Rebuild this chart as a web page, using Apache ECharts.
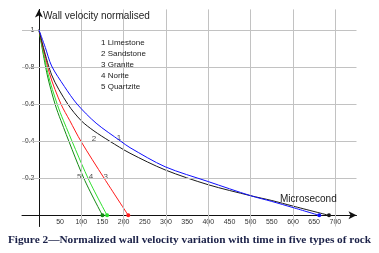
<!DOCTYPE html>
<html>
<head>
<meta charset="utf-8">
<script src="https://cdn.jsdelivr.net/npm/echarts@6/dist/echarts.min.js"></script>
<style>
  html, body { margin: 0; padding: 0; background: #fff; }
  #chart { width: 379px; height: 253px; }
</style>
</head>
<body>
<div id="chart"></div>
<script>
// time in microseconds, normalised wall velocity
const limestone = [[0, 1], [15, 0.905], [30, 0.805], [60, 0.695], [90, 0.6], [135, 0.497], [193, 0.4], [215, 0.365], [298, 0.262], [400, 0.182], [500, 0.106], [550, 0.075], [600, 0.042], [662, 0]];
const sandstone = [[0, 1], [30, 0.757], [68, 0.6], [100, 0.51], [130, 0.455], [167, 0.4], [215, 0.335], [298, 0.245], [400, 0.165], [500, 0.106], [550, 0.08], [600, 0.05], [685, 0]];
const granite = [[0, 1], [26, 0.757], [52, 0.6], [73, 0.51], [99, 0.4], [154, 0.2], [211, 0]];
const norite = [[0, 1], [22, 0.757], [43, 0.6], [58, 0.51], [116, 0.2], [161, 0]];
const quartzite = [[0, 1], [19.6, 0.757], [38, 0.6], [52, 0.51], [106, 0.2], [150, 0]];

const rockNames = ["1 Limestone", "2 Sandstone", "3 Granite", "4 Norite", "5 Quartzite"];
const curveNumbers = ["1", "2", "3", "4", "5"];
const curveLabelAt = [[189, 0.42], [130, 0.415], [158, 0.21], [123, 0.21], [95, 0.21]];
const xTickLabels = [50, 100, 150, 200, 250, 300, 350, 400, 450, 500, 550, 600, 650, 700];
const xGridLines = [100, 200, 300, 400, 500, 600, 700];
const yTickLabels = [0.2, 0.4, 0.6, 0.8, 1];

const allSeries = [limestone, sandstone, granite, norite, quartzite];
const colors = ["#1010ff", "#1a1a1a", "#ff1a1a", "#2ee02e", "#138a13"];
const gridColor = "#c2c2c2";

const chart = echarts.init(document.getElementById("chart"), null, { renderer: "canvas" });

const series = allSeries.map((pts, i) => ({
  name: rockNames[i],
  type: "line",
  smooth: 0.3,
  data: pts.map((p, j) => j === pts.length - 1
    ? { value: p, symbol: "circle", symbolSize: 4 }
    : { value: p, symbol: "none" }),
  lineStyle: { color: colors[i], width: 1 },
  itemStyle: { color: colors[i] },
  silent: true,
  z: 5 - i
}));

// grid lines, drawn through the axes' own scales
series.push({
  type: "line",
  data: [],
  silent: true,
  z: 0,
  markLine: {
    silent: true,
    symbol: "none",
    animation: false,
    label: { show: false },
    lineStyle: { color: gridColor, width: 1, type: "solid" },
    data: xGridLines.map(v => ({ xAxis: v })).concat(yTickLabels.map(v => ({ yAxis: v })))
  }
});

series.push({
  type: "scatter",
  symbolSize: 0,
  silent: true,
  data: curveLabelAt.map((p, i) => ({ value: p, name: curveNumbers[i] })),
  label: {
    show: true,
    position: "inside",
    formatter: "{b}",
    fontSize: 8,
    color: "#222",
    fontFamily: "Liberation Sans"
  }
});

const plainText = { fontWeight: "normal", color: "#222", fontFamily: "Liberation Sans" };

chart.setOption({
  animation: false,
  backgroundColor: "#fff",
  grid: { left: 22, right: 22.5, top: 9.4, bottom: 26.5 },
  title: [
    {
      text: "Wall velocity normalised",
      left: 43, top: 11, padding: 0,
      textStyle: Object.assign({ fontSize: 10 }, plainText)
    },
    {
      text: rockNames.join("\n"),
      left: 101, top: 37, padding: 0,
      textStyle: Object.assign({ fontSize: 8, lineHeight: 11 }, plainText)
    },
    {
      text: "Microsecond",
      left: 280, top: 194, padding: 0,
      textStyle: Object.assign({ fontSize: 10 }, plainText)
    },
    {
      text: "Figure 2\u2014Normalized wall velocity variation with time in five types of rock",
      left: "center", top: 235, padding: 0,
      textStyle: { fontSize: 11.3, fontWeight: "bold", color: "#1b2148", fontFamily: "Liberation Serif" }
    }
  ],
  xAxis: {
    type: "value",
    min: -40,
    max: 750,
    axisLine: {
      onZero: true,
      symbol: ["none", "arrow"],
      symbolSize: [6, 8],
      lineStyle: { color: "#111", width: 1 }
    },
    axisTick: { show: false },
    axisLabel: {
      customValues: xTickLabels,
      inside: true,
      verticalAlign: "bottom",
      fontSize: 7,
      color: "#333",
      margin: 1,
      fontFamily: "Liberation Sans"
    },
    splitLine: { show: false }
  },
  yAxis: {
    type: "value",
    min: -0.06,
    max: 1.11,
    axisLine: {
      onZero: true,
      symbol: ["none", "arrow"],
      symbolSize: [6, 8],
      lineStyle: { color: "#111", width: 1 }
    },
    axisTick: { show: false },
    axisLabel: {
      customValues: yTickLabels,
      inside: true,
      align: "right",
      fontSize: 7,
      color: "#333",
      margin: 12.5,
      fontFamily: "Liberation Sans"
    },
    splitLine: { show: false }
  },
  series: series
});
</script>
</body>
</html>
